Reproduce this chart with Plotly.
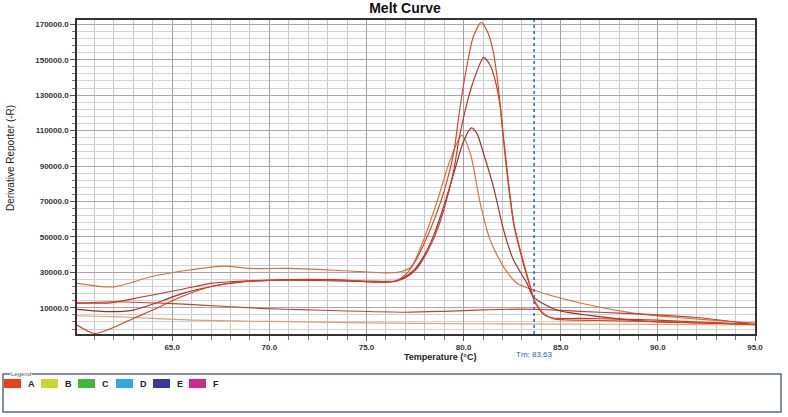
import plotly.graph_objects as go

# ---------------- data ----------------
temp_p1 = [60.1, 61.0, 62.0, 63.0, 64.0, 65.0, 66.0, 67.0, 68.0, 69.0, 70.0, 72.0, 74.0, 75.5, 76.5,
           77.0, 77.5, 78.0, 78.5, 79.0, 79.5, 79.75, 80.0, 80.5, 80.9, 81.2, 81.5, 81.75, 82.0, 82.3,
           82.6, 83.1, 83.45, 83.65, 84.1, 84.6, 85.0, 87.0, 90.0, 93.0, 95.0]
val_p1 = [300, -4500, -1000, 4000, 8700, 14000, 18500, 22000, 24000, 25000, 25500, 25800, 25500, 25000, 25200,
          28500, 36000, 47000, 60000, 76000, 98000, 118000, 136000, 163000, 171000, 166500, 156000, 138000, 112000, 82000,
          57000, 35000, 21500, 14000, 7000, 3800, 3300, 2800, 2200, 1300, 500]

temp_p2 = [60.1, 61.8, 63.5, 65.3, 67.0, 68.0, 70.0, 72.0, 74.0, 76.0, 76.5, 77.0, 77.5, 78.0, 78.5, 79.0, 79.5,
           79.75, 80.0, 80.35, 80.7, 81.03, 81.37, 81.63, 81.89, 82.04, 82.3, 82.6, 83.1, 83.45, 83.65, 84.1,
           84.6, 86.0, 88.0, 90.0, 92.0, 95.0]
val_p2 = [12800, 12800, 16200, 20000, 23800, 24700, 25500, 25500, 25000, 24500, 25000, 27000, 31000, 39000, 50000, 66000, 88000,
          104400, 117500, 132600, 143800, 151300, 146700, 138200, 123200, 106000, 80000, 56000, 34000, 21000, 13500, 6500,
          4200, 4000, 3600, 3000, 2000, 700]

temp_p3 = [60.1, 61.8, 63.0, 63.6, 64.5, 65.5, 67.0, 68.5, 70.0, 72.0, 74.0, 75.5, 76.5, 77.0, 77.5, 78.0, 78.5,
           79.0, 79.5, 80.0, 80.4, 80.7, 81.03, 81.54, 82.06, 82.57, 83.26, 83.59, 84.8, 87.0, 89.75, 92.0, 94.74]
val_p3 = [9100, 7800, 8700, 10600, 14000, 18000, 22000, 24500, 25500, 26000, 25500, 24500, 25000, 27500, 32000, 40000, 52000,
          68000, 86000, 104000, 111500, 108000, 96900, 78100, 53800, 36900, 23900, 16200, 8700, 5000, 2100, 1500, 800]

temp_p4 = [60.1, 62.0, 63.9, 65.8, 67.7, 69.0, 71.1, 73.85, 76.08, 76.8, 77.3, 77.8, 78.6, 79.3, 79.9, 80.35,
           80.86, 81.37, 82.06, 82.75, 83.59, 86.0, 88.73, 91.0, 93.87, 95.0]
val_p4 = [23800, 21800, 27500, 31200, 33500, 32200, 32200, 30900, 29700, 30500, 33000, 44400, 68800, 93200, 107300, 96900,
          68800, 48100, 33100, 23800, 20000, 12700, 7000, 4500, 2100, 1500]

temp_f1 = [60.1, 61.8, 64.7, 66.5, 69.5, 72.0, 77.0, 79.0, 81.0, 83.0, 84.0, 86.0, 88.0, 90.0, 92.0, 94.6]
val_f1 = [12500, 13400, 12500, 11500, 9700, 8800, 7500, 8000, 8800, 9200, 9000, 8000, 7000, 6000, 4500, 1200]

temp_f2 = [60.1, 62.0, 64.0, 66.0, 70.0, 75.0, 80.0, 85.0, 90.0, 95.0]
val_f2 = [5500, 5000, 4000, 3000, 2300, 1500, 1000, 800, 600, 300]

series_temps = [temp_p4, temp_f2, temp_f1, temp_p3, temp_p2, temp_p1]
series_vals = [val_p4, val_f2, val_f1, val_p3, val_p2, val_p1]
series_colors = ["#d9703a", "#e0a070", "#c0452e", "#a8282a", "#c8341e", "#e0401c"]

tm_value = 83.63
y_ticks = [10000, 30000, 50000, 70000, 90000, 110000, 130000, 150000, 170000]
x_ticks = [65, 70, 75, 80, 85, 90, 95]
legend_names = ["A", "B", "C", "D", "E", "F"]
legend_colors = ["#e8401c", "#c8d830", "#40b840", "#30a8e0", "#3838a0", "#d02890"]

# ---------------- layout geometry (pixels) ----------------
W, H = 788, 417
L, R, T, B = 77, 33, 20, 83
PW, PH = W - L - R, H - T - B


def px(x):
    return (x - L) / PW


def py(y):
    return (H - B - y) / PH


fig = go.Figure()
for t, v, c in zip(series_temps, series_vals, series_colors):
    fig.add_trace(go.Scatter(x=t, y=v, mode="lines",
                             line=dict(color=c, width=1.15, shape="spline", smoothing=0.7),
                             showlegend=False, hoverinfo="skip"))

fig.add_vline(x=tm_value, line=dict(color="#2a64c8", width=1.5, dash="dot"))

font_fam = "Liberation Sans, Arial, sans-serif"
fig.update_layout(
    width=W, height=H,
    margin=dict(l=L, r=R, t=T, b=B, autoexpand=False),
    paper_bgcolor="white", plot_bgcolor="white",
    showlegend=False,
    title=dict(text="<b>Melt Curve</b>", x=405 / W, xanchor="center", y=1 - 8 / H, yanchor="middle",
               font=dict(family=font_fam, size=14, color="#111")),
    font=dict(family=font_fam),
)

fig.update_xaxes(
    range=[60.1, 95], tickvals=x_ticks, ticktext=[f"<b>{v:.1f}</b>" for v in x_ticks],
    tickfont=dict(size=8, color="#333"), ticks="outside", ticklen=5, tickcolor="#555",
    showgrid=True, gridcolor="#a0a0a0", gridwidth=1,
    minor=dict(dtick=1, tick0=60, showgrid=True, gridcolor="#c8c8c8", gridwidth=1,
               ticks="outside", ticklen=4, tickcolor="#777"),
    showline=True, mirror=True, linecolor="#333", linewidth=1.5, zeroline=False, automargin=False,
)
fig.update_yaxes(
    range=[-4800, 172400], tickvals=y_ticks, ticktext=[f"<b>{v:.1f}</b>" for v in y_ticks],
    tickfont=dict(size=8, color="#333"), ticks="outside", ticklen=5, tickcolor="#555",
    showgrid=True, gridcolor="#a8a8a8", gridwidth=1,
    minor=dict(dtick=4000, tick0=10000, showgrid=True, gridcolor="#d2d2d2", gridwidth=1,
               ticks="outside", ticklen=3, tickcolor="#777"),
    showline=True, mirror=True, linecolor="#333", linewidth=1.5, zeroline=False, automargin=False,
)

# axis titles
fig.add_annotation(xref="paper", yref="paper", x=px(440), y=py(357), text="<b>Temperature (°C)</b>",
                   showarrow=False, font=dict(size=9, color="#222"), xanchor="center", yanchor="middle")
fig.add_annotation(xref="paper", yref="paper", x=px(10), y=py(158), text="Derivative Reporter (-R)",
                   showarrow=False, textangle=-90,
                   font=dict(size=10, color="#222", family="Liberation Sans Narrow, Arial Narrow, sans-serif"),
                   xanchor="center", yanchor="middle")

# Tm annotation
fig.add_annotation(x=tm_value, xref="x", y=py(354), yref="paper", text="Tm: 83.63", showarrow=False,
                   font=dict(size=8, color="#3a5aa0"), xanchor="center", yanchor="middle")

# Legend box
fig.add_shape(type="rect", xref="paper", yref="paper", x0=px(3), x1=px(781), y0=py(374), y1=py(412),
              line=dict(color="#5a6a84", width=1.5), fillcolor="rgba(0,0,0,0)")
fig.add_annotation(xref="paper", yref="paper", x=px(10), y=py(374), text="Legend", showarrow=False,
                   font=dict(size=6, color="#555"), bgcolor="white", xanchor="left", yanchor="middle",
                   borderpad=0)
item_x = [4, 41, 78, 116, 153, 189]
for name, col, x0 in zip(legend_names, legend_colors, item_x):
    fig.add_shape(type="rect", xref="paper", yref="paper", x0=px(x0), x1=px(x0 + 17), y0=py(388), y1=py(379),
                  line=dict(width=0), fillcolor=col)
    fig.add_annotation(xref="paper", yref="paper", x=px(x0 + 22), y=py(384), text=f"<b>{name}</b>",
                       showarrow=False, font=dict(size=9, color="#222"), xanchor="left", yanchor="middle")

fig.write_html("out.html", config={"displayModeBar": False},
               post_script="document.body.style.margin='0';document.body.style.padding='0';")
